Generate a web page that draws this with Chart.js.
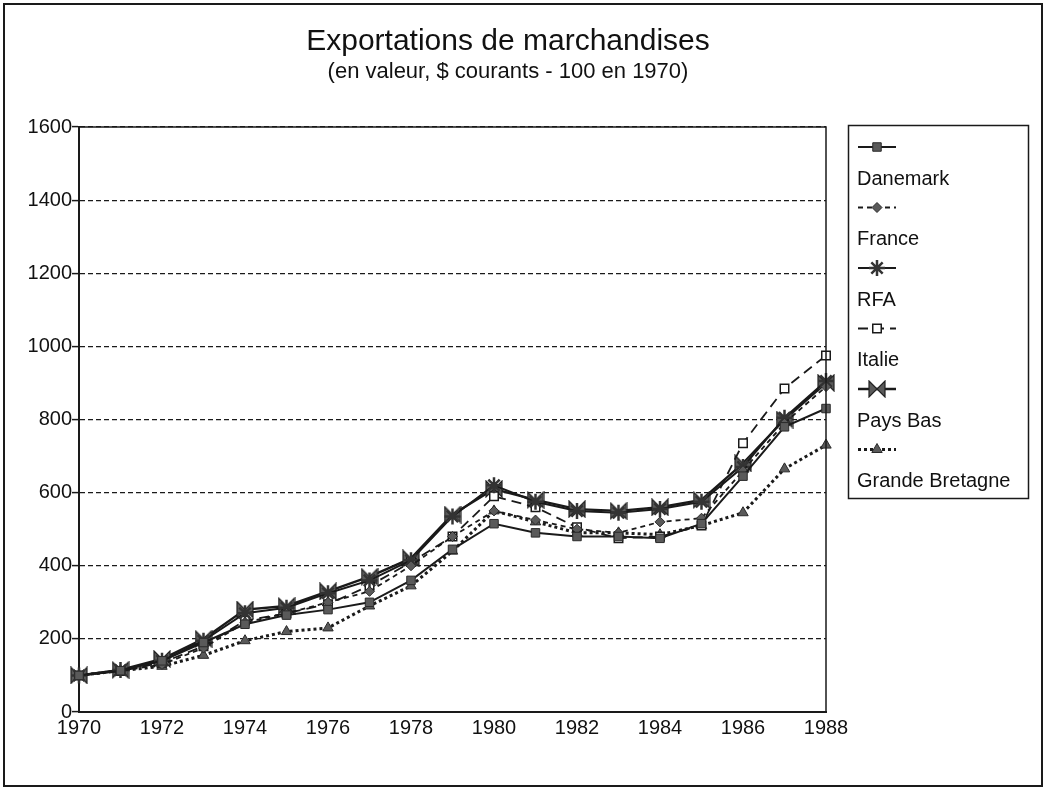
<!DOCTYPE html>
<html>
<head>
<meta charset="utf-8">
<script src="https://cdn.jsdelivr.net/npm/chart.js@4.4.0/dist/chart.umd.min.js"></script>
<style>
  html, body { margin: 0; padding: 0; background: #fff; }
  #wrap { position: relative; width: 1046px; height: 790px; }
</style>
</head>
<body>
<div id="wrap"><canvas id="chart" width="1046" height="790"></canvas></div>
<script>
/* values, index 100 in 1970 */
const years = ['1970','1971','1972','1973','1974','1975','1976','1977','1978','1979',
               '1980','1981','1982','1983','1984','1985','1986','1987','1988'];
const danemark = [100,113,140,190,240,265,280,300,360,445,515,490,480,480,475,515,645,780,830];
const france   = [100,112,130,175,245,270,300,330,400,480,550,525,500,490,520,530,660,790,890];
const rfa      = [100,115,140,195,270,285,325,360,415,535,620,575,550,545,555,575,670,805,905];
const italie   = [100,112,135,180,250,270,295,345,410,480,590,560,505,475,480,510,735,885,975];
const paysBas  = [100,115,145,200,280,290,330,370,420,540,610,580,555,550,560,580,680,800,900];
const bretagne = [100,113,125,155,195,220,230,290,345,440,550,520,490,490,485,510,545,665,730];
const seriesNames = ['Danemark','France','RFA','Italie','Pays Bas','Grande Bretagne'];
const yTicks = [0,200,400,600,800,1000,1200,1400,1600];

const FONT = '"Liberation Sans", Arial, sans-serif';
const INK = '#1a1a1a';

// bow-tie marker for Pays Bas
function bowtie(size) {
  const c = document.createElement('canvas');
  c.width = size; c.height = size;
  const g = c.getContext('2d');
  g.fillStyle = '#5a5a5a';
  g.strokeStyle = '#222';
  g.lineWidth = 1.2;
  g.beginPath();
  g.moveTo(1, 1); g.lineTo(size - 1, size - 1); g.lineTo(size - 1, 1); g.lineTo(1, size - 1);
  g.closePath();
  g.fill(); g.stroke();
  return c;
}

function ds(label, data, style) {
  return Object.assign({
    label: label,
    data: data,
    borderColor: INK,
    backgroundColor: '#5a5a5a',
    pointBorderColor: '#2a2a2a',
    pointBackgroundColor: '#5a5a5a',
    borderWidth: 2,
    pointBorderWidth: 1,
    tension: 0,
    fill: false
  }, style);
}

const datasets = [
  ds(seriesNames[0], danemark, { pointStyle: 'rect', pointRadius: 6 }),
  ds(seriesNames[1], france, { borderDash: [5, 4], borderWidth: 1.8, pointStyle: 'rectRot', pointRadius: 5 }),
  ds(seriesNames[2], rfa, { pointStyle: 'star', pointRadius: 8, pointBorderWidth: 2.5, pointBorderColor: '#333' }),
  ds(seriesNames[3], italie, { borderDash: [10, 6], borderWidth: 1.8, pointStyle: 'rect', pointRadius: 6,
       pointBackgroundColor: '#fff', pointBorderColor: INK, pointBorderWidth: 1.5 }),
  ds(seriesNames[4], paysBas, { borderWidth: 2.4, pointStyle: bowtie(18), pointRadius: 9 }),
  ds(seriesNames[5], bretagne, { borderDash: [3, 3], borderWidth: 3, pointStyle: 'triangle', pointRadius: 6 })
];

// titles, plot frame, outer frame and the stacked legend
const decor = {
  id: 'decor',
  afterDraw(chart) {
    const ctx = chart.ctx;
    const a = chart.chartArea;
    ctx.save();
    ctx.strokeStyle = INK;
    ctx.lineWidth = 2;
    ctx.strokeRect(4, 4, 1038, 782);

    ctx.lineWidth = 1.5;
    ctx.beginPath();
    ctx.moveTo(a.left, a.top); ctx.lineTo(a.right, a.top); ctx.lineTo(a.right, a.bottom);
    ctx.stroke();

    ctx.fillStyle = '#111';
    ctx.textAlign = 'center';
    ctx.textBaseline = 'middle';
    ctx.font = '30px ' + FONT;
    ctx.fillText('Exportations de marchandises', 508, 42);
    ctx.font = '22px ' + FONT;
    ctx.fillText('(en valeur, $ courants - 100 en 1970)', 508, 72);

    // legend
    const lx = 848, ly = 125, step = 60.5;
    ctx.lineWidth = 1.5;
    ctx.strokeRect(lx + 0.5, ly + 0.5, 180, 10 + step * seriesNames.length);
    chart.data.datasets.forEach((d, i) => {
      const sy = ly + 22 + i * step;
      ctx.save();
      ctx.strokeStyle = d.borderColor;
      ctx.lineWidth = d.borderWidth;
      ctx.setLineDash(d.borderDash || []);
      ctx.beginPath();
      ctx.moveTo(lx + 10, sy); ctx.lineTo(lx + 48, sy);
      ctx.stroke();
      ctx.setLineDash([]);
      ctx.fillStyle = d.pointBackgroundColor;
      ctx.strokeStyle = d.pointBorderColor;
      ctx.lineWidth = d.pointBorderWidth;
      Chart.helpers.drawPoint(ctx, { pointStyle: d.pointStyle, radius: d.pointRadius,
        borderWidth: d.pointBorderWidth, rotation: 0 }, lx + 29, sy);
      ctx.restore();
      ctx.fillStyle = '#111';
      ctx.textAlign = 'left';
      ctx.font = '20px ' + FONT;
      ctx.fillText(d.label, lx + 9, sy + 32);
    });
    ctx.restore();
  }
};

new Chart(document.getElementById('chart'), {
  type: 'line',
  data: { labels: years, datasets: datasets },
  options: {
    responsive: false,
    animation: false,
    layout: { padding: { left: 0, top: 127, right: 220, bottom: 0 } },
    plugins: { legend: { display: false }, title: { display: false }, tooltip: { enabled: false } },
    scales: {
      x: {
        offset: false,
        grid: { drawOnChartArea: false, drawTicks: false },
        border: { color: INK, width: 2 },
        ticks: {
          autoSkip: false, maxRotation: 0, color: '#111', padding: 4,
          font: { family: FONT, size: 20 },
          callback: (v, i) => (i % 2 === 0 ? years[i] : '')
        },
        afterFit: s => { s.height = 78; }
      },
      y: {
        min: 0, max: 1600,
        afterBuildTicks: s => { s.ticks = yTicks.map(v => ({ value: v })); },
        grid: { color: INK, lineWidth: 1.2, tickLength: 7, tickColor: INK, tickWidth: 1.5, tickBorderDash: [] },
        border: { color: INK, width: 2, dash: [5, 3] },
        ticks: { color: '#111', padding: 0, font: { family: FONT, size: 20 }, callback: v => String(v) },
        afterFit: s => { s.width = 79; }
      }
    }
  },
  plugins: [decor]
});
</script>
</body>
</html>
